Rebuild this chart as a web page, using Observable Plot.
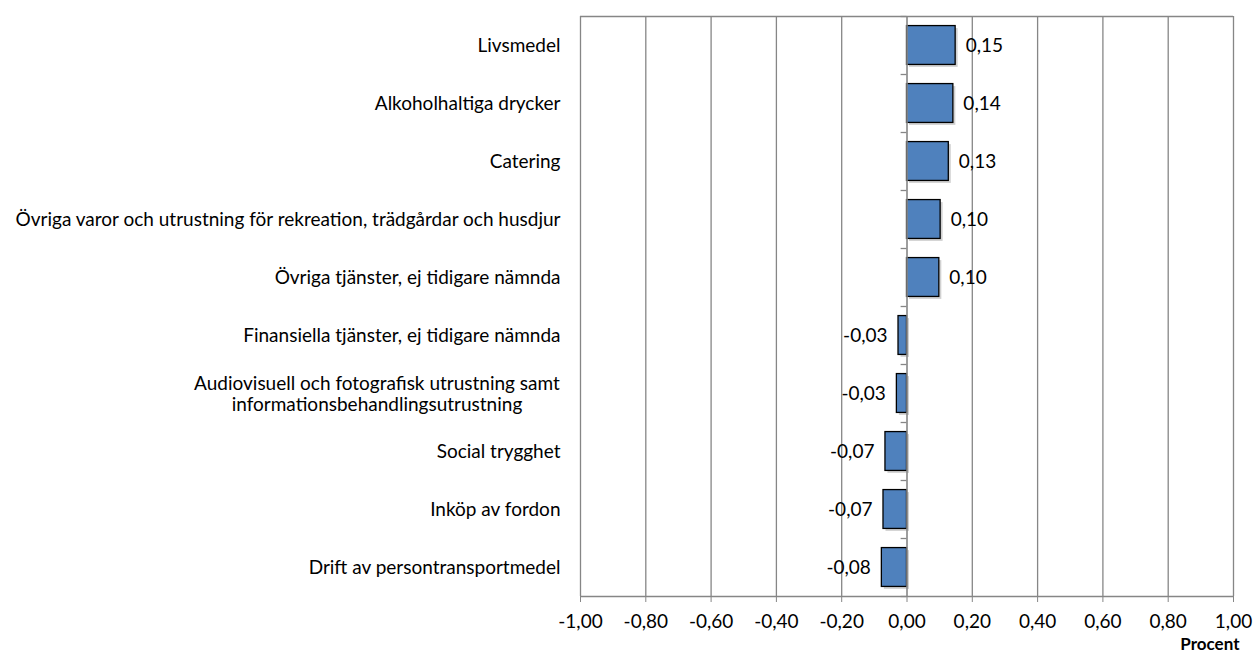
<!DOCTYPE html>
<html><head><meta charset="utf-8">
<script src="https://cdn.jsdelivr.net/npm/d3@7"></script>
<script src="https://cdn.jsdelivr.net/npm/@observablehq/plot@0.6"></script>
<style>body{margin:0;background:#fff} #chart svg{display:block}</style>
</head><body><div id="chart"></div><script>
const categories = [
  "Livsmedel",
  "Alkoholhaltiga drycker",
  "Catering",
  "Övriga varor och utrustning för rekreation, trädgårdar och husdjur",
  "Övriga tjänster, ej tidigare nämnda",
  "Finansiella tjänster, ej tidigare nämnda",
  "Audiovisuell och fotografisk utrustning samt\ninformationsbehandlingsutrustning",
  "Social trygghet",
  "Inköp av fordon",
  "Drift av persontransportmedel"
];
const values = [0.149, 0.142, 0.128, 0.103, 0.099, -0.026, -0.031, -0.066, -0.072, -0.077];
const xTicks = [-1, -0.8, -0.6, -0.4, -0.2, 0, 0.2, 0.4, 0.6, 0.8, 1];
const axisTitle = "Procent";

const data = categories.map((c, i) => ({cat: c, i, v: values[i]}));
const boundaries = [-0.5, ...categories.map((c, i) => i + 0.5)];
const fmt = v => v.toFixed(2).replace(".", ",");
const half = 0.335;
const grid = "#868686";
const fontFamily = "Lato, 'Open Sans', sans-serif";
const fontSize = 19;
const labelGap = 20;
const marginLeft = 580;

const single = data.filter(d => !d.cat.includes("\n"));
const wrapped = data.filter(d => d.cat.includes("\n"));

const chart = Plot.plot({
  width: 1253, height: 653,
  marginLeft, marginRight: 20, marginTop: 16, marginBottom: 57,
  style: {fontFamily, fontSize: fontSize + "px", color: "#000", background: "#fff"},
  x: {domain: [-1, 1]},
  y: {domain: [-0.5, 9.5], reverse: true, axis: null},
  marks: [
    Plot.ruleX(xTicks.filter(t => t !== 0), {stroke: grid, strokeWidth: 1.3}),
    Plot.ruleY([-0.5, 9.5], {stroke: grid, strokeWidth: 1.3}),
    Plot.axisX({ticks: xTicks, tickFormat: fmt, tickSize: 6, tickPadding: 12, stroke: grid, strokeOpacity: 1, label: null, fill: "#000"}),
    Plot.text(single, {x: () => -1, y: "i", text: "cat", textAnchor: "end", dx: -labelGap, fill: "#000"}),
    Plot.text(wrapped, {x: () => -1, y: "i", text: "cat", textAnchor: "middle", lineHeight: 1.12, fill: "#000", className: "wrapped-label"}),
    Plot.rectX(data, {x1: 0, x2: "v", y1: d => d.i - half, y2: d => d.i + half, fill: "#000", fillOpacity: 0.18, dx: 2.5, dy: 2.5}),
    Plot.rectX(data, {x1: 0, x2: "v", y1: d => d.i - half, y2: d => d.i + half, fill: "#4F81BD", stroke: "#000", strokeWidth: 1.3}),
    Plot.ruleX([0], {stroke: grid, strokeWidth: 1.6}),
    Plot.ruleY(boundaries, {x1: -0.018, x2: 0, stroke: grid, strokeWidth: 1.3}),
    Plot.text(data.filter(d => d.v >= 0), {x: "v", y: "i", text: d => fmt(d.v), textAnchor: "start", dx: 10, fill: "#000"}),
    Plot.text(data.filter(d => d.v < 0), {x: "v", y: "i", text: d => fmt(d.v), textAnchor: "end", dx: -11, fill: "#000"}),
    Plot.text([axisTitle], {frameAnchor: "bottom-right", textAnchor: "end", lineAnchor: "middle", dx: 6, dy: 48, fontWeight: "bold", fontSize: 17, fill: "#000"})
  ]
});
document.getElementById("chart").appendChild(chart);

// Excel centres the lines of a wrapped category label; shift the block so its widest line ends at the gap
function alignWrapped() {
  const svgLeft = chart.getBoundingClientRect().left;
  d3.select(chart).selectAll(".wrapped-label text").each(function() {
    const base = this.__baseTransform ?? (this.__baseTransform = d3.select(this).attr("transform") || "");
    d3.select(this).attr("transform", base);
    const r = this.getBoundingClientRect();
    const shift = (marginLeft - labelGap) - (r.right - svgLeft);
    d3.select(this).attr("transform", `translate(${shift},0) ` + base);
  });
}
alignWrapped();
if (document.fonts && document.fonts.ready) document.fonts.ready.then(alignWrapped);
</script></body></html>
